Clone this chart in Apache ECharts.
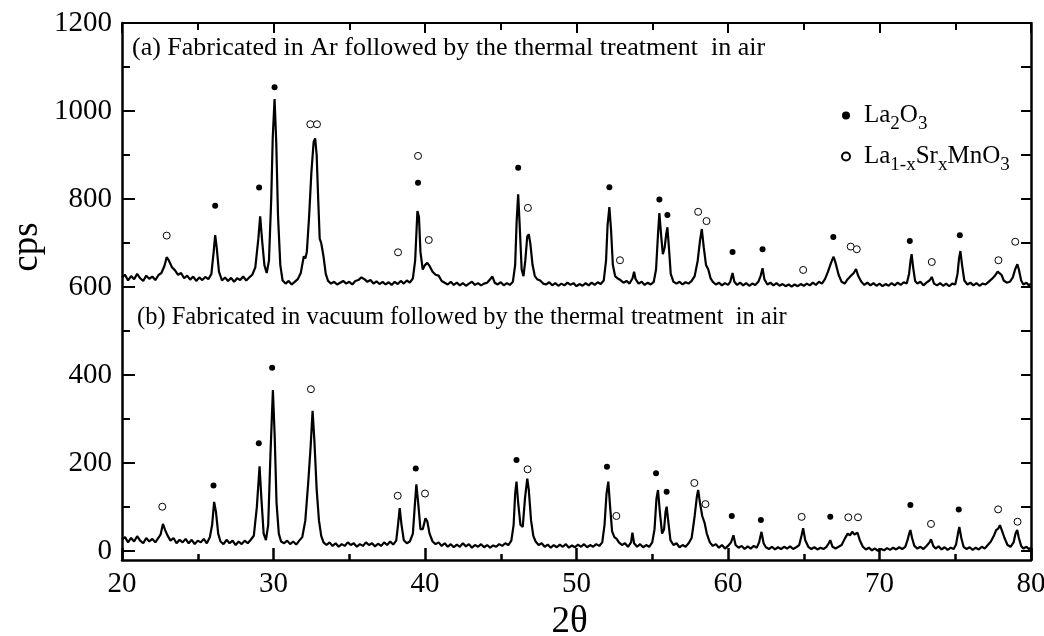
<!DOCTYPE html>
<html>
<head>
<meta charset="utf-8">
<script src="https://cdn.jsdelivr.net/npm/echarts@6/dist/echarts.min.js"></script>
<style>
html,body{margin:0;padding:0;background:#fff;}
#chart{width:1044px;height:636px;}
</style>
</head>
<body>
<div id="chart"></div>
<script>
// ---- data (2θ, cps) ----
const traceA = [
[20.0,622],[20.2,628],[20.4,615],[20.6,625],[20.8,618],[21.0,630],[21.2,620],[21.4,614],[21.6,626],[21.8,619],[22.0,624],[22.2,616],[22.4,627],[22.6,632],[22.8,648],[22.95,668],[23.1,660],[23.3,645],[23.5,638],[23.7,628],[23.9,632],[24.1,620],[24.3,626],[24.5,617],[24.7,624],[24.9,614],[25.1,622],[25.3,616],[25.5,623],[25.7,618],[25.9,630],[26.05,680],[26.15,718],[26.25,690],[26.4,635],[26.6,615],[26.8,622],[27.0,614],[27.2,621],[27.4,612],[27.6,620],[27.8,616],[28.0,624],[28.2,615],[28.4,622],[28.6,628],[28.8,645],[29.0,710],[29.12,761],[29.25,705],[29.4,650],[29.55,632],[29.7,660],[29.85,800],[29.95,940],[30.07,1027],[30.18,930],[30.3,760],[30.45,650],[30.6,615],[30.8,608],[31.0,614],[31.2,606],[31.4,612],[31.6,618],[31.8,632],[32.0,670],[32.1,665],[32.2,680],[32.35,760],[32.5,860],[32.65,930],[32.75,938],[32.85,900],[32.95,800],[33.05,710],[33.15,700],[33.3,670],[33.45,630],[33.6,614],[33.8,608],[34.0,612],[34.2,606],[34.4,610],[34.6,614],[34.8,608],[35.0,612],[35.2,606],[35.4,614],[35.6,616],[35.8,622],[36.0,618],[36.2,612],[36.4,616],[36.6,608],[36.8,613],[37.0,607],[37.2,612],[37.4,606],[37.6,611],[37.8,605],[38.0,612],[38.2,607],[38.4,614],[38.6,608],[38.8,615],[39.0,610],[39.2,620],[39.35,660],[39.5,773],[39.6,760],[39.7,680],[39.85,640],[40.0,650],[40.15,655],[40.3,648],[40.5,635],[40.7,628],[40.9,626],[41.1,614],[41.3,610],[41.5,606],[41.7,612],[41.9,605],[42.1,610],[42.3,604],[42.5,609],[42.7,603],[42.9,608],[43.1,612],[43.3,605],[43.5,609],[43.7,604],[43.9,608],[44.1,610],[44.3,618],[44.45,624],[44.6,610],[44.8,606],[45.0,611],[45.2,604],[45.4,609],[45.6,605],[45.8,612],[45.95,650],[46.05,750],[46.15,811],[46.25,740],[46.38,640],[46.5,625],[46.62,660],[46.75,715],[46.85,720],[46.95,700],[47.1,650],[47.25,625],[47.4,618],[47.6,615],[47.8,608],[48.0,606],[48.2,611],[48.4,604],[48.6,609],[48.8,603],[49.0,608],[49.2,604],[49.4,610],[49.6,605],[49.8,609],[50.0,602],[50.2,607],[50.4,603],[50.6,609],[50.8,604],[51.0,610],[51.2,605],[51.4,611],[51.6,607],[51.8,615],[51.95,660],[52.05,740],[52.17,782],[52.28,730],[52.4,650],[52.55,625],[52.7,620],[52.9,616],[53.1,610],[53.3,614],[53.5,608],[53.7,620],[53.8,635],[53.9,618],[54.1,608],[54.3,612],[54.5,605],[54.7,610],[54.9,606],[55.1,612],[55.25,640],[55.38,720],[55.47,768],[55.58,720],[55.7,675],[55.82,690],[55.92,720],[56.0,736],[56.1,690],[56.22,630],[56.4,612],[56.6,608],[56.8,612],[57.0,606],[57.2,611],[57.4,608],[57.6,614],[57.8,625],[58.0,660],[58.15,705],[58.27,732],[58.4,690],[58.55,650],[58.7,640],[58.85,620],[59.0,612],[59.2,606],[59.4,610],[59.6,604],[59.8,609],[60.0,605],[60.15,612],[60.3,632],[60.42,612],[60.6,605],[60.8,610],[61.0,604],[61.2,609],[61.4,603],[61.6,608],[61.8,605],[62.0,612],[62.15,625],[62.28,643],[62.4,618],[62.6,606],[62.8,610],[63.0,604],[63.2,609],[63.4,603],[63.6,607],[63.8,602],[64.0,606],[64.2,601],[64.4,606],[64.6,602],[64.8,607],[65.0,603],[65.2,608],[65.4,604],[65.6,610],[65.8,605],[66.0,612],[66.2,608],[66.4,618],[66.6,635],[66.8,655],[66.97,669],[67.1,655],[67.3,628],[67.5,612],[67.7,608],[67.9,618],[68.1,625],[68.3,632],[68.45,641],[68.6,625],[68.8,612],[69.0,605],[69.2,610],[69.4,604],[69.6,609],[69.8,603],[70.0,608],[70.2,602],[70.4,607],[70.6,603],[70.8,609],[71.0,604],[71.2,610],[71.4,605],[71.6,611],[71.8,608],[71.95,630],[72.05,660],[72.12,675],[72.22,645],[72.35,614],[72.5,608],[72.7,612],[72.9,604],[73.1,610],[73.3,615],[73.45,623],[73.6,608],[73.8,604],[74.0,609],[74.2,603],[74.4,608],[74.6,602],[74.8,608],[75.0,606],[75.15,630],[75.25,665],[75.34,682],[75.45,650],[75.6,615],[75.8,606],[76.0,610],[76.2,604],[76.4,609],[76.6,603],[76.8,608],[77.0,606],[77.2,612],[77.4,618],[77.6,625],[77.8,635],[77.92,639],[78.05,628],[78.2,615],[78.4,610],[78.6,612],[78.8,622],[78.95,640],[79.1,652],[79.2,640],[79.35,615],[79.5,606],[79.7,610],[79.85,604],[80.0,608]
];
const traceB = [
[20.0,26],[20.2,32],[20.4,20],[20.6,30],[20.8,22],[21.0,34],[21.2,24],[21.4,18],[21.6,30],[21.8,22],[22.0,28],[22.2,20],[22.4,30],[22.55,38],[22.7,62],[22.85,48],[23.0,36],[23.2,24],[23.4,30],[23.6,18],[23.8,26],[24.0,20],[24.2,28],[24.4,18],[24.6,26],[24.8,16],[25.0,24],[25.2,20],[25.4,28],[25.6,18],[25.8,32],[25.95,60],[26.08,112],[26.2,90],[26.35,40],[26.5,22],[26.7,16],[26.9,26],[27.1,18],[27.3,24],[27.5,14],[27.7,22],[27.9,16],[28.1,24],[28.3,18],[28.5,26],[28.7,35],[28.9,100],[29.08,193],[29.2,120],[29.35,40],[29.5,25],[29.65,60],[29.8,220],[29.96,366],[30.08,260],[30.2,110],[30.35,40],[30.5,22],[30.7,18],[30.9,24],[31.1,16],[31.3,22],[31.5,15],[31.7,24],[31.9,32],[32.1,70],[32.3,160],[32.45,237],[32.58,319],[32.7,250],[32.85,140],[33.0,70],[33.15,35],[33.3,20],[33.5,14],[33.7,20],[33.9,12],[34.1,18],[34.3,10],[34.5,16],[34.7,12],[34.9,20],[35.1,14],[35.3,18],[35.5,10],[35.7,16],[35.9,12],[36.1,20],[36.3,14],[36.5,18],[36.7,11],[36.9,17],[37.1,12],[37.3,20],[37.5,14],[37.7,22],[37.9,15],[38.1,24],[38.22,60],[38.33,98],[38.45,60],[38.6,25],[38.8,18],[39.0,22],[39.2,40],[39.32,100],[39.43,152],[39.55,110],[39.7,50],[39.85,50],[40.03,75],[40.15,68],[40.3,40],[40.5,22],[40.7,16],[40.9,20],[41.1,12],[41.3,18],[41.5,10],[41.7,16],[41.9,9],[42.1,15],[42.3,10],[42.5,18],[42.7,11],[42.9,16],[43.1,8],[43.3,14],[43.5,10],[43.7,16],[43.9,9],[44.1,14],[44.3,8],[44.5,13],[44.7,10],[44.9,16],[45.1,12],[45.3,18],[45.5,14],[45.7,24],[45.85,60],[45.95,130],[46.04,158],[46.15,110],[46.3,60],[46.45,55],[46.6,120],[46.75,165],[46.85,140],[47.0,70],[47.15,35],[47.3,22],[47.5,14],[47.7,18],[47.9,10],[48.1,15],[48.3,8],[48.5,14],[48.7,9],[48.9,15],[49.1,10],[49.3,16],[49.5,8],[49.7,13],[49.9,9],[50.1,15],[50.3,10],[50.5,16],[50.7,9],[50.9,14],[51.1,10],[51.3,16],[51.5,12],[51.7,20],[51.85,60],[51.98,130],[52.1,158],[52.22,100],[52.35,45],[52.5,32],[52.65,28],[52.8,20],[53.0,14],[53.2,18],[53.4,10],[53.6,20],[53.69,42],[53.8,18],[54.0,10],[54.2,16],[54.4,9],[54.6,14],[54.8,10],[55.0,20],[55.15,50],[55.28,120],[55.38,139],[55.5,90],[55.65,40],[55.78,50],[55.88,90],[55.95,101],[56.05,70],[56.2,25],[56.4,14],[56.6,18],[56.8,9],[57.0,14],[57.2,10],[57.4,18],[57.6,30],[57.8,80],[57.95,125],[58.03,139],[58.15,110],[58.3,80],[58.45,65],[58.6,40],[58.8,20],[59.0,12],[59.2,16],[59.4,8],[59.6,14],[59.8,6],[60.0,12],[60.2,20],[60.36,36],[60.5,14],[60.7,8],[60.9,12],[61.1,5],[61.3,11],[61.5,6],[61.7,12],[61.9,8],[62.05,20],[62.21,44],[62.35,18],[62.5,9],[62.7,5],[62.9,10],[63.1,4],[63.3,9],[63.5,5],[63.7,10],[63.9,6],[64.1,11],[64.3,5],[64.5,9],[64.7,14],[64.85,35],[64.96,52],[65.1,25],[65.3,10],[65.5,5],[65.7,9],[65.9,4],[66.1,8],[66.3,5],[66.5,10],[66.65,18],[66.75,25],[66.9,10],[67.1,6],[67.3,10],[67.5,14],[67.7,28],[67.9,40],[68.05,36],[68.2,44],[68.35,38],[68.55,42],[68.7,25],[68.9,10],[69.1,4],[69.3,8],[69.5,2],[69.7,6],[69.9,1],[70.1,5],[70.3,2],[70.5,7],[70.7,3],[70.9,8],[71.1,4],[71.3,9],[71.5,5],[71.7,10],[71.85,25],[71.96,40],[72.04,48],[72.15,30],[72.3,12],[72.5,6],[72.7,10],[72.9,5],[73.1,12],[73.3,20],[73.4,27],[73.55,12],[73.7,6],[73.9,11],[74.1,4],[74.3,9],[74.5,3],[74.7,8],[74.9,5],[75.05,15],[75.18,40],[75.27,55],[75.4,30],[75.55,10],[75.75,5],[75.95,9],[76.15,3],[76.35,8],[76.55,4],[76.75,10],[76.95,6],[77.15,14],[77.35,22],[77.55,35],[77.7,48],[77.85,52],[77.95,59],[78.1,45],[78.25,30],[78.45,14],[78.65,10],[78.85,20],[78.98,40],[79.09,48],[79.2,30],[79.35,12],[79.5,6],[79.7,10],[79.85,5],[80.0,8]
];
// peak markers: filled dots (La2O3) and open circles (La1-xSrxMnO3)
const la2o3Marks = [
[26.15,785],[29.05,826],[30.07,1054],[39.54,837],[46.15,871],[52.17,827],[55.47,799],[56.0,764],[60.3,680],[62.28,686],[66.95,714],[72.0,705],[75.3,718],
[26.04,149],[29.03,245],[29.91,417],[39.39,188],[46.04,207],[52.01,192],[55.25,177],[55.95,135],[60.25,80],[62.17,71],[66.75,78],[72.04,105],[75.23,95]
];
const lsmoMarks = [
[22.95,717],[32.43,970],[32.87,970],[38.22,679],[39.54,898],[40.25,707],[46.79,780],[52.87,661],[58.03,771],[58.58,750],[64.96,639],[68.1,692],[68.5,686],[73.45,657],[77.85,661],[78.96,703],
[22.66,101],[32.47,368],[38.2,126],[40.0,131],[46.77,186],[52.63,80],[57.78,155],[58.51,107],[64.86,78],[67.94,77],[68.58,77],[73.4,62],[77.83,95],[79.11,67]
];
const yMajorTicks = [0,200,400,600,800,1000,1200];
const yMinorTicks = [100,300,500,700,900,1100];
const yRightTicks = [0,100,200,300,400,500,600,700,800,900,1000,1100,1200];
const labelA = '(a) Fabricated in Ar followed by the thermal treatment  in air';
const labelB = '(b) Fabricated in vacuum followed by the thermal treatment  in air';
const yTitle = 'cps';
const xTitle = '2θ';

const FONT = 'Liberation Serif';
const chart = echarts.init(document.getElementById('chart'), null, {renderer:'canvas'});
const axisBase = {min:-20, max:1200, splitLine:{show:false}, axisLabel:{show:false}};
chart.setOption({
  animation:false,
  backgroundColor:'#ffffff',
  grid:{left:122, right:13, top:23, bottom:76, containLabel:false, outerBoundsMode:'none'},
  legend:{
    orient:'vertical', left:836, top:98, itemGap:10,
    itemWidth:8, itemHeight:8,
    data:['La2O3','La1-xSrxMnO3'],
    formatter:function(n){
      return n==='La2O3'
        ? '{f|La}{s|2}{m|O}{s|3}'
        : '{f|La}{s|1-x}{m|Sr}{s|x}{m|MnO}{s|3}';
    },
    textStyle:{
      color:'#000', fontFamily:FONT,
      rich:{
        f:{fontSize:25, fontFamily:FONT, color:'#000', padding:[0,0,0,9]},
        m:{fontSize:25, fontFamily:FONT, color:'#000'},
        s:{fontSize:19, fontFamily:FONT, color:'#000', padding:[18,0,0,0]}
      }
    }
  },
  xAxis:[
    {type:'value', position:'bottom', min:20, max:80, interval:10,
     axisLine:{show:true, onZero:false, lineStyle:{color:'#000', width:2.5}},
     axisTick:{show:true, inside:true, length:12, lineStyle:{color:'#000', width:2.5}},
     minorTick:{show:true, splitNumber:2, length:6, lineStyle:{color:'#000', width:2.5}},
     splitLine:{show:false},
     axisLabel:{color:'#000', fontSize:29, fontFamily:FONT, margin:10},
     name:xTitle, nameLocation:'middle', nameGap:44,
     nameTextStyle:{color:'#000', fontSize:37, fontFamily:FONT, padding:[0,14,0,0]}},
    {type:'value', position:'top', min:20, max:80, interval:10,
     axisLine:{show:true, onZero:false, lineStyle:{color:'#000', width:2}},
     axisTick:{show:true, inside:true, length:10, lineStyle:{color:'#000', width:2}},
     minorTick:{show:true, splitNumber:2, length:7, lineStyle:{color:'#000', width:2}},
     splitLine:{show:false}, axisLabel:{show:false}}
  ],
  yAxis:[
    Object.assign({}, axisBase, {type:'value', position:'left',
     axisLine:{show:true, onZero:false, lineStyle:{color:'#000', width:2.5}},
     axisTick:{show:true, inside:true, length:13, customValues:yMajorTicks, lineStyle:{color:'#000', width:2}},
     axisLabel:{show:true, customValues:yMajorTicks, formatter:function(v){return String(v);},
       color:'#000', fontSize:29, fontFamily:FONT, margin:10}}),
    Object.assign({}, axisBase, {type:'value', position:'left',
     axisLine:{show:false, onZero:false},
     axisTick:{show:true, inside:true, length:8, customValues:yMinorTicks, lineStyle:{color:'#000', width:2}}}),
    Object.assign({}, axisBase, {type:'value', position:'right',
     axisLine:{show:true, onZero:false, lineStyle:{color:'#000', width:2.5}},
     axisTick:{show:true, inside:true, length:10, customValues:yRightTicks, lineStyle:{color:'#000', width:2}}})
  ],
  graphic:[
    {type:'text', x:132, y:48, style:{text:labelA, font:'26px "'+FONT+'"', fill:'#000', textVerticalAlign:'middle'}},
    {type:'text', x:137, y:318, style:{text:labelB, font:'24.5px "'+FONT+'"', fill:'#000', textVerticalAlign:'middle'}},
    {type:'text', x:27, y:247, rotation:Math.PI/2, style:{text:yTitle, font:'37px "'+FONT+'"', fill:'#000', textAlign:'center', textVerticalAlign:'middle'}}
  ],
  series:[
    {name:'a', type:'line', data:traceA, showSymbol:false, symbol:'none', xAxisIndex:0, yAxisIndex:0,
     lineStyle:{color:'#000', width:2.2}, silent:true},
    {name:'b', type:'line', data:traceB, showSymbol:false, symbol:'none', xAxisIndex:0, yAxisIndex:0,
     lineStyle:{color:'#000', width:2.2}, silent:true},
    {name:'La2O3', type:'scatter', data:la2o3Marks, symbol:'circle', symbolSize:6, xAxisIndex:0, yAxisIndex:0,
     itemStyle:{color:'#000', opacity:1}},
    {name:'La1-xSrxMnO3', type:'scatter', data:lsmoMarks, symbol:'circle', symbolSize:7, xAxisIndex:0, yAxisIndex:0,
     itemStyle:{color:'#fff', borderColor:'#000', borderWidth:1, opacity:1}}
  ]
});
</script>
</body>
</html>
